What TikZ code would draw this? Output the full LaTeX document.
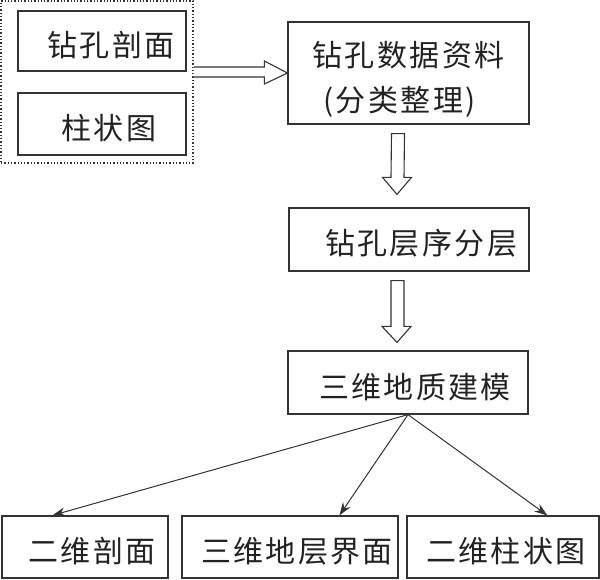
\documentclass[tikz,border=0pt]{standalone}
\usepackage{fontspec}
\newfontfamily\cjk[LetterSpace=8]{Noto Sans CJK SC}
\usetikzlibrary{calc,arrows.meta}
\definecolor{lncol}{HTML}{333333}
\definecolor{txcol}{HTML}{222222}
\begin{document}
\begin{tikzpicture}[x=1pt,y=-1pt,
  box/.style={draw=lncol,line width=1.2pt,inner sep=0pt,text=txcol,
    font=\cjk\fontsize{30pt}{45pt}\selectfont,text height=31pt,text depth=0pt},
  grp/.style={draw=lncol,line width=1.3pt,dotted,inner sep=0pt},
  hollow/.style={draw=lncol,line width=1.1pt,line join=miter,fill=white},
  link/.style={draw=lncol,line width=1pt,-{Stealth[length=13pt,width=9pt]}}]
\useasboundingbox (0,0) rectangle (600,580);
% group box
\node[grp,minimum width=192pt,minimum height=162pt] (G) at (97,82) {};
\node[box,minimum width=168pt,minimum height=60pt] (A) at (102,41) {\hspace*{18pt}钻孔剖面};
\node[box,minimum width=168pt,minimum height=62pt] (B) at (102,124) {\hspace*{14pt}柱状图};
\node[box,minimum width=241pt,minimum height=102pt,align=center,text height=77pt] (C) at (408.5,73) {钻孔数据资料\\(分类整理)\hspace*{18pt}};
\node[box,minimum width=240pt,minimum height=63pt] (D) at (409,239.5) {\hspace*{24pt}钻孔层序分层};
\node[box,minimum width=240pt,minimum height=63pt] (E) at (408,382.5) {\hspace*{14pt}三维地质建模};
\node[box,minimum width=166pt,minimum height=62pt] (F) at (85,547) {\hspace*{14pt}二维剖面};
\node[box,minimum width=216pt,minimum height=62pt] (H) at (290,547) {\hspace*{14pt}三维地层界面};
\node[box,minimum width=192pt,minimum height=62pt] (K) at (503,547) {\hspace*{6pt}二维柱状图};
% hollow arrow: group -> C
\path[hollow] (G.east |- 0,67) -- ($(C.west)+(-23,-6)$) -- ($(C.west)+(-23,-12)$) -- (C.west)
  -- ($(C.west)+(-23,11)$) -- ($(C.west)+(-23,4)$) -- (G.east |- 0,77);
% hollow arrow: C -> D
\path[hollow] ($(C.south)+(-17,9)$) -- ($(D.north)+(-18,-30)$) -- ($(D.north)+(-26.5,-30)$)
  -- ($(D.north)+(-12,-13)$) -- ($(D.north)+(2.5,-30)$) -- ($(D.north)+(-5,-30)$)
  -- ($(C.south)+(-4,9)$) -- cycle;
% hollow arrow: D -> E
\path[hollow] ($(D.south)+(-18,9)$) -- ($(E.north)+(-17,-24)$) -- ($(E.north)+(-26,-24)$)
  -- ($(E.north)+(-11,-8)$) -- ($(E.north)+(3,-24)$) -- ($(E.north)+(-4,-24)$)
  -- ($(D.south)+(-5,9)$) -- cycle;
% links
\draw[link] (E.south) -- ([xshift=51pt]F.north west);
\draw[link] (E.south) -- ([xshift=158pt]H.north west);
\draw[link] (E.south) -- ([xshift=141pt]K.north west);
\end{tikzpicture}
\end{document}
